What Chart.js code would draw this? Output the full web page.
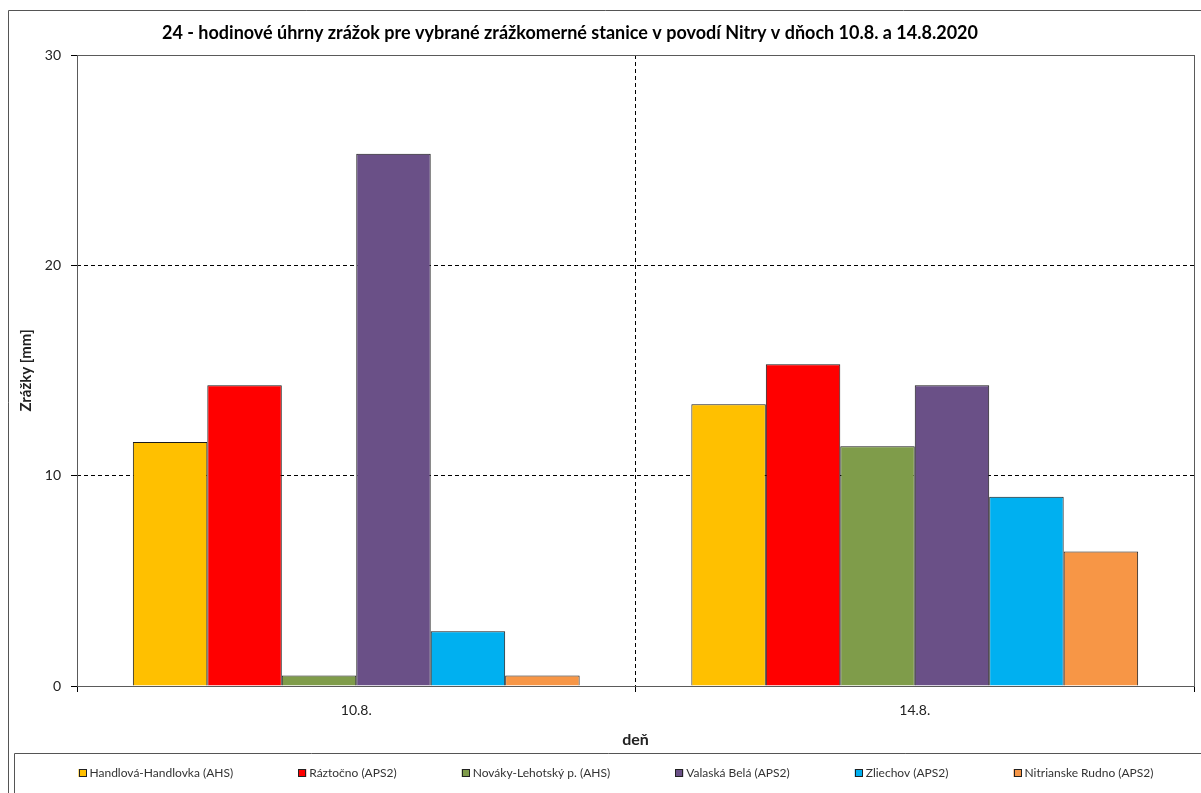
<!DOCTYPE html>
<html lang="sk">
<head>
    <meta charset="UTF-8">
    <title>Úhrny zrážok - povodie Nitry</title>
    <script src="https://cdn.jsdelivr.net/npm/chart.js"></script>
    <style>
        body { margin: 0; background: #fff; }
        canvas { display: block; }
    </style>
</head>
<body>
    <canvas id="rainChart" width="1201" height="793"></canvas>

    <script>
        // data
        const days = ['10.8.', '14.8.'];
        const stations = [
            'Handlová-Handlovka (AHS)',
            'Ráztočno (APS2)',
            'Nováky-Lehotský p. (AHS)',
            'Valaská Belá (APS2)',
            'Zliechov (APS2)',
            'Nitrianske Rudno (APS2)'
        ];
        const handlova = [11.6, 13.4];
        const raztocno = [14.3, 15.3];
        const novaky = [0.5, 11.4];
        const valaska = [25.3, 14.3];
        const zliechov = [2.6, 9.0];
        const nitrianske = [0.5, 6.4];
        const yTicks = [0, 10, 20, 30];

        const seriesValues = [handlova, raztocno, novaky, valaska, zliechov, nitrianske];
        const colors = ['#FFC000', '#FF0000', '#7F9C4A', '#6A5087', '#00B0F0', '#F79646'];

        const chartTitle = '24 - hodinové úhrny zrážok pre vybrané zrážkomerné stanice v povodí Nitry v dňoch 10.8. a 14.8.2020';
        const fontFamily = 'Lato, "Open Sans", sans-serif';

        // frames, title and boxed legend like the Excel original
        const excelLook = {
            id: 'excelLook',
            afterDatasetsDraw(chart) {
                const ctx = chart.ctx;
                const a = chart.chartArea;
                ctx.save();
                ctx.setLineDash([]);
                ctx.lineWidth = 1;

                // plot area frame
                ctx.strokeStyle = '#5a5a5a';
                ctx.strokeRect(Math.round(a.left) + 0.5, Math.round(a.top) + 0.5,
                    Math.round(a.right - a.left), Math.round(a.bottom - a.top));

                // outer frame (cut by the picture edge)
                ctx.strokeStyle = '#555';
                ctx.beginPath();
                ctx.moveTo(8.5, 900);
                ctx.lineTo(8.5, 10.5);
                ctx.lineTo(1300, 10.5);
                ctx.stroke();

                // legend frame
                ctx.beginPath();
                ctx.moveTo(14.5, 900);
                ctx.lineTo(14.5, 753.5);
                ctx.lineTo(1300, 753.5);
                ctx.stroke();

                // title
                ctx.fillStyle = '#000';
                ctx.font = 'bold 18px ' + fontFamily;
                ctx.textAlign = 'center';
                ctx.textBaseline = 'middle';
                ctx.fillText(chartTitle, 570, 33);

                // legend, equal gaps between items, centred
                ctx.font = '12px ' + fontFamily;
                const box = 8, gap = 3;
                const widths = chart.data.datasets.map(ds => box + gap + ctx.measureText(ds.label).width);
                const total = widths.reduce((s, w) => s + w, 0);
                const space = (1075 - total) / (widths.length - 1);
                let x = 616 - (total + space * (widths.length - 1)) / 2;
                const y = 773;
                ctx.textAlign = 'left';
                chart.data.datasets.forEach((ds, i) => {
                    ctx.fillStyle = ds.backgroundColor;
                    ctx.fillRect(x, y - 4, box, box);
                    ctx.strokeStyle = '#222';
                    ctx.strokeRect(Math.round(x) + 0.5, y - 4 + 0.5, box - 1, box - 1);
                    ctx.fillStyle = '#333';
                    ctx.fillText(ds.label, x + box + gap, y + 0.5);
                    x += widths[i] + space;
                });
                ctx.restore();
            }
        };

        new Chart(document.getElementById('rainChart'), {
            type: 'bar',
            data: {
                labels: days,
                datasets: stations.map((name, i) => ({
                    label: name,
                    data: seriesValues[i],
                    backgroundColor: colors[i],
                    borderColor: '#1a1a1a',
                    borderWidth: 1,
                    barPercentage: 1.0,
                    categoryPercentage: 0.8
                }))
            },
            options: {
                responsive: false,
                animation: false,
                layout: { padding: { left: 8, right: 7, top: 55, bottom: 40 } },
                plugins: {
                    legend: { display: false },
                    title: { display: false },
                    tooltip: { enabled: false }
                },
                scales: {
                    x: {
                        grid: { color: '#000', tickLength: 6, offset: true },
                        border: { display: false, dash: [4, 3] },
                        ticks: { color: '#222', font: { family: fontFamily, size: 14 }, padding: 10 },
                        title: {
                            display: true, text: 'deň', color: '#222',
                            font: { family: fontFamily, size: 16, weight: 'bold' },
                            padding: { top: 4, bottom: 4 }
                        },
                        afterFit(scale) { scale.height = 67; }
                    },
                    y: {
                        min: 0,
                        max: 30,
                        afterBuildTicks(scale) { scale.ticks = yTicks.map(v => ({ value: v })); },
                        grid: { color: '#000', tickLength: 6 },
                        border: { display: false, dash: [4, 3] },
                        ticks: { color: '#222', font: { family: fontFamily, size: 14 }, padding: 10 },
                        title: {
                            display: true, text: 'Zrážky [mm]', color: '#222',
                            font: { family: fontFamily, size: 15, weight: 'bold' },
                            padding: { top: 9, bottom: 4 }
                        },
                        afterFit(scale) { scale.width = 69; }
                    }
                }
            },
            plugins: [excelLook]
        });
    </script>
</body>
</html>
